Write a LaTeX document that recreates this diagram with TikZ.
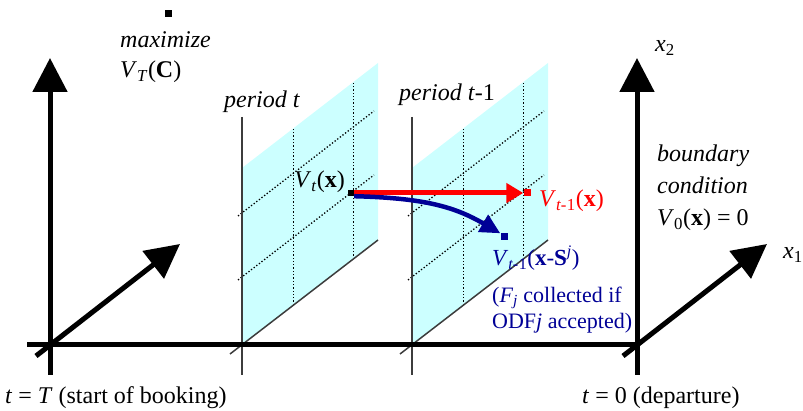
\documentclass[tikz,border=0pt]{standalone}
\usepackage{fontspec}
\setmainfont{Liberation Serif}
\newfontfamily\tnr{Liberation Serif}
\usetikzlibrary{arrows.meta}
\definecolor{planec}{RGB}{204,255,255}
\definecolor{gridgray}{RGB}{60,60,60}
\definecolor{redc}{RGB}{255,0,0}
\definecolor{bluec}{RGB}{0,0,150}
\newcommand{\vsub}[2]{\textit{#1}\textsubscript{\textit{#2}}}
\begin{document}
\begin{tikzpicture}[x=1pt,y=-1pt,
  txt/.style={inner sep=0pt,font=\tnr\fontsize{24}{28}\selectfont},
  axis/.style={line width=5pt,-{Triangle[length=34pt,width=34pt]}},
  axisline/.style={line width=5pt},
  pline/.style={gridgray,line width=1.5pt},
  gdot/.style={black,line width=1.3pt,dotted},
  pt/.style={rectangle,inner sep=0pt,minimum size=7pt,fill=#1},
]
\useasboundingbox (0,0) rectangle (803,411);

% planes
\foreach \ox/\nm in {242/pa,412/pb}{
  \fill[planec] (\ox,345) -- ++(136,-105) -- ++(0,-177) -- ++(-136,105) -- cycle;
  \foreach \u in {0.38,0.82}{
    \draw[gdot] (\ox+136*\u,345-105*\u) -- ++(0,-177);
  }
  \foreach \h in {68,132}{
    \draw[gdot] (\ox-4,345-\h+3) -- (\ox+132,345-\h-102);
  }
  \draw[pline] (\ox,117) -- (\ox,375);
  \draw[pline] (\ox-12,354) -- (\ox+136,240);
}

% axes
\coordinate (o1) at (50,345);
\coordinate (o2) at (637,345);
\coordinate (hl) at (27,345);
\coordinate (hr) at (640,345);
\coordinate (v1b) at (50,375);
\coordinate (v1t) at (50,58);
\coordinate (v2b) at (637,375);
\coordinate (v2t) at (637,58);
\coordinate (d1s) at (36,356);
\coordinate (d1e) at (180,244);
\coordinate (d2s) at (623,356);
\coordinate (d2e) at (767,244);
\draw[axisline] (hl) -- (hr);
\draw[axis] (v1b) -- (v1t);
\draw[axis] (v2b) -- (v2t);
\draw[axis] (d1s) -- (d1e);
\draw[axis] (d2s) -- (d2e);

% points
\node[pt=black] (top) at (168,14) {};
\node[pt=black,minimum size=6pt] (vt) at (351,193) {};
\node[pt=redc] (vr) at (527,193) {};
\node[pt=bluec] (vb) at (504,237) {};

% arrows
\draw[redc,line width=5pt,-{Triangle[length=17pt,width=19pt]}] (vt.east) -- (vr.west);
\draw[bluec,line width=4.5pt,-{Triangle[length=20pt,width=19pt]}] (vt.south east) .. controls (425,198) and (455,207) .. (vb.north west);

% labels
\node[txt,anchor=west] (max) at (120,40) {\textit{maximize}};
\node[txt,anchor=west] (vtc) at (120,72) {\vsub{V}{T}(\textbf{C})};
\node[txt] (pt1) at (262,102) {\textit{period t}};
\node[txt] (pt2) at (447,95) {\textit{period t}-1};
\node[txt,anchor=east] (lvt) at (345,182) {\vsub{V}{t}(\textbf{x})};
\node[txt,anchor=west,text=redc] (lvr) at (539,201) {\vsub{V}{t-}\textsubscript{1}(\textbf{x})};
\node[txt,anchor=west,text=bluec,font=\tnr\fontsize{23}{28}\selectfont] (lvb) at (492,258) {\vsub{V}{t-}\textsubscript{1}(\textbf{x}-\textbf{S}\textsuperscript{\textit{j}})};
\node[txt,anchor=north west,text=bluec,align=left,font=\tnr\fontsize{22}{26}\selectfont] (fj) at (492,287) {(\vsub{F}{j} collected if\\ODF\textit{j} accepted)};
\node[txt,anchor=west] (x2) at (655,48) {\textit{x}\textsubscript{2}};
\node[txt,anchor=west] (x1) at (783,255) {\textit{x}\textsubscript{1}};
\node[txt,anchor=north west,align=left,font=\tnr\fontsize{24}{32}\selectfont] (bc) at (657,145) {\textit{boundary}\\\textit{condition}\\\textit{V}\textsubscript{0}(\textbf{x}) = 0};
\node[txt,anchor=west] (tT) at (5,398) {\textit{t} = \textit{T} (start of booking)};
\node[txt,anchor=west] (t0) at (582,398) {\textit{t} = 0 (departure)};
\end{tikzpicture}
\end{document}
